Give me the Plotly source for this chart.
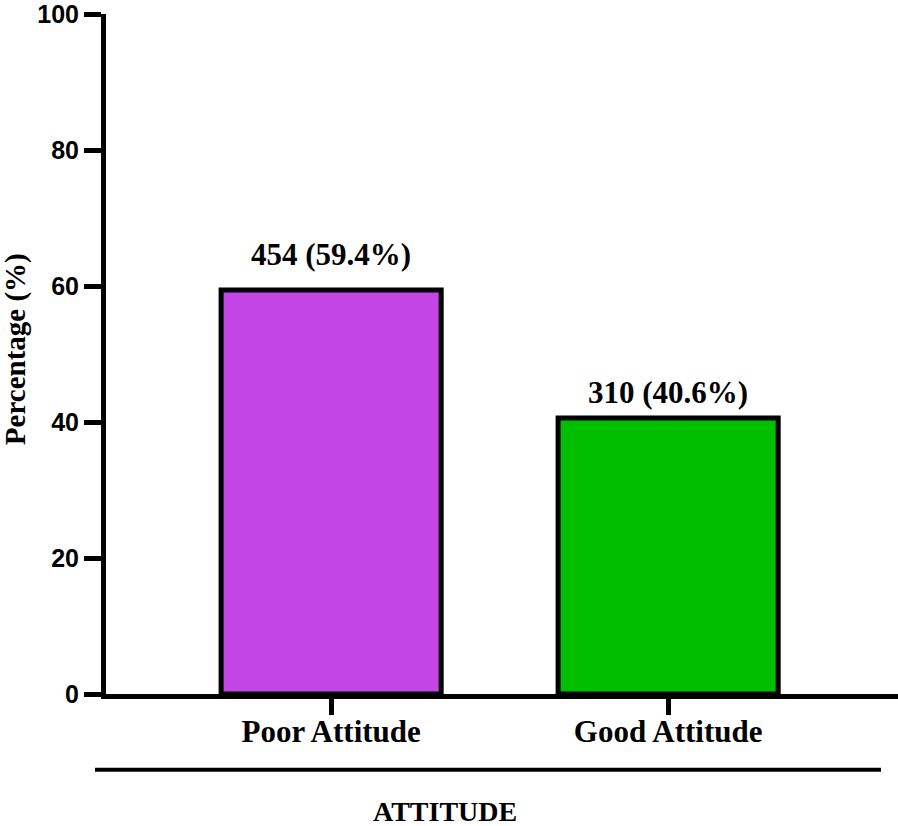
import plotly.graph_objects as go

categories = ["Poor Attitude", "Good Attitude"]
counts = [454, 310]
percentages = [59.4, 40.6]
bar_colors = ["#C445E6", "#00BF00"]
y_ticks = [0, 20, 40, 60, 80, 100]
label_gap = [16, 6]

serif = "Liberation Serif, Times New Roman, serif"
sans = "Liberation Sans, Arial, sans-serif"

fig = go.Figure()
fig.add_trace(go.Bar(
    x=categories,
    y=percentages,
    width=0.653,
    marker=dict(color=bar_colors, line=dict(color="black", width=5)),
    hoverinfo="skip",
))

for c, n, p, g in zip(categories, counts, percentages, label_gap):
    fig.add_annotation(
        x=c, y=p, xref="x", yref="y",
        text=f"{n} ({p}%)", showarrow=False,
        yanchor="bottom", yshift=g,
        font=dict(family=serif, size=31, color="black", weight="bold"),
    )

# axis title annotations
fig.add_annotation(
    x=-0.1150, y=0.507, xref="paper", yref="paper",
    text="Percentage (%)", textangle=-90, showarrow=False,
    xanchor="center", yanchor="middle",
    font=dict(family=serif, size=29, color="black", weight="bold"),
)
fig.add_annotation(
    x=0.428, y=-0.1735, xref="paper", yref="paper",
    text="ATTITUDE", showarrow=False,
    xanchor="center", yanchor="middle",
    font=dict(family=serif, size=28, color="black", weight="bold"),
)
fig.add_shape(
    type="line", xref="paper", yref="paper",
    x0=-0.0139, x1=0.9785, y0=-0.1115, y1=-0.1115,
    line=dict(color="black", width=4),
)

fig.update_layout(
    width=898, height=826,
    margin=dict(l=106, r=0, t=8, b=132),
    paper_bgcolor="white", plot_bgcolor="white",
    showlegend=False,
    bargap=0.3,
)
fig.update_xaxes(
    range=[-0.668, 1.682],
    showline=True, linecolor="black", linewidth=5,
    ticks="outside", ticklen=16, tickwidth=5, tickcolor="black",
    ticklabelstandoff=-10,
    showgrid=False, zeroline=False,
    tickfont=dict(family=serif, size=31, color="black", weight="bold"),
)
fig.update_yaxes(
    range=[0, 100],
    tickvals=y_ticks,
    showline=True, linecolor="black", linewidth=5,
    ticks="outside", ticklen=17, tickwidth=5, tickcolor="black",
    showgrid=False, zeroline=False,
    ticklabeloverflow="allow",
    tickfont=dict(family=sans, size=25, color="black", weight="bold"),
)

fig.write_html("out.html", config={"displayModeBar": False},
               post_script="document.body.style.margin='0';")
